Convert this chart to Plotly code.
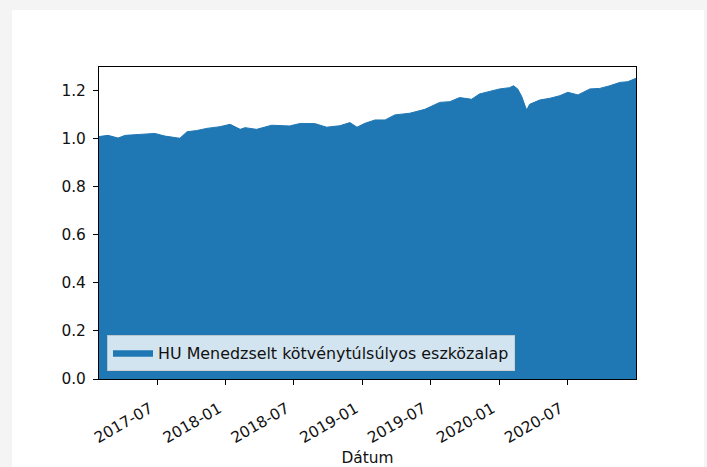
import plotly.graph_objects as go

dates = ["2017-01-27","2017-02-20","2017-03-19","2017-04-07","2017-05-16","2017-06-25",
         "2017-07-22","2017-08-18","2017-08-31","2017-09-19","2017-10-15","2017-11-11",
         "2017-12-16","2018-01-12","2018-02-08","2018-02-21","2018-03-24","2018-05-03",
         "2018-06-20","2018-07-17","2018-08-26","2018-09-27","2018-11-01","2018-11-28",
         "2018-12-17","2019-01-07","2019-02-03","2019-03-02","2019-03-28","2019-05-07",
         "2019-06-16","2019-07-26","2019-08-22","2019-09-17","2019-10-19","2019-11-09",
         "2019-12-06","2020-01-02","2020-01-28","2020-02-08","2020-02-19","2020-03-01",
         "2020-03-09","2020-03-14","2020-03-22","2020-04-18","2020-05-15","2020-06-11",
         "2020-07-02","2020-07-29","2020-08-30","2020-09-25","2020-10-22","2020-11-18",
         "2020-12-09","2020-12-31"]
values = [1.007,1.012,1.001,1.012,1.016,1.020,1.009,1.003,1.000,1.027,1.032,1.041,
          1.048,1.058,1.037,1.044,1.037,1.054,1.051,1.061,1.061,1.046,1.052,1.065,
          1.046,1.062,1.076,1.076,1.097,1.104,1.120,1.149,1.152,1.169,1.162,1.184,
          1.193,1.205,1.210,1.218,1.205,1.173,1.138,1.117,1.141,1.159,1.166,1.177,
          1.191,1.180,1.205,1.207,1.218,1.232,1.235,1.249]
assert len(dates) == len(values)

series_name = "HU Menedzselt kötvénytúlsúlyos eszközalap"
x_tick_vals = ["2017-07-01","2018-01-01","2018-07-01","2019-01-01","2019-07-01","2020-01-01","2020-07-01"]
x_tick_text = ["2017-07","2018-01","2018-07","2019-01","2019-07","2020-01","2020-07"]
y_tick_vals = [0.0,0.2,0.4,0.6,0.8,1.0,1.2]
x_title = "Dátum"

BLUE = "#1f77b4"
FONT = "DejaVu Sans"
FS = 15.4

fig = go.Figure()
fig.add_trace(go.Scatter(
    x=dates, y=values, mode="lines", fill="tozeroy",
    fillcolor=BLUE, line=dict(color=BLUE, width=1),
    name=series_name, showlegend=True,
))

fig.update_layout(
    width=707, height=467,
    margin=dict(l=99, r=71, t=67, b=88),
    paper_bgcolor="#f4f4f4",
    plot_bgcolor="white",
    font=dict(family=FONT, size=FS, color="#111111"),
    showlegend=True,
    legend=dict(
        x=0.0149, y=0.0256, xanchor="left", yanchor="bottom",
        bgcolor="rgba(255,255,255,0.8)", bordercolor="rgba(204,204,204,0.9)",
        borderwidth=1, itemwidth=40,
        font=dict(family=FONT, size=15.9, color="#111111"),
    ),
    shapes=[dict(type="rect", xref="paper", yref="paper",
                 x0=-0.162, x1=1.1266, y0=-0.3, y1=1.1827,
                 fillcolor="white", line=dict(width=0), layer="below")],
    xaxis=dict(
        type="date", range=["2017-01-27", "2020-12-31"],
        tickvals=x_tick_vals, ticktext=x_tick_text, tickangle=-30,
        ticks="outside", ticklen=5, tickcolor="black", tickwidth=1,
        showline=True, linecolor="black", linewidth=1, mirror=True,
        showgrid=False, zeroline=False, automargin=False,
        ticklabelstandoff=9, ticklabelshift=-7,
        title=dict(text=x_title, standoff=10, font=dict(family=FONT, size=FS)),
    ),
    yaxis=dict(
        range=[0, 1.296], tickvals=y_tick_vals, tickformat=".1f",
        ticks="outside", ticklen=5, tickcolor="black", tickwidth=1,
        showline=True, linecolor="black", linewidth=1, mirror=True,
        showgrid=False, zeroline=False, ticklabelstandoff=4, automargin=False,
    ),
)

fig.write_html(
    "out.html",
    config={"displayModeBar": False},
    post_script="document.body.style.margin='0';document.body.style.background='#f4f4f4';",
)
